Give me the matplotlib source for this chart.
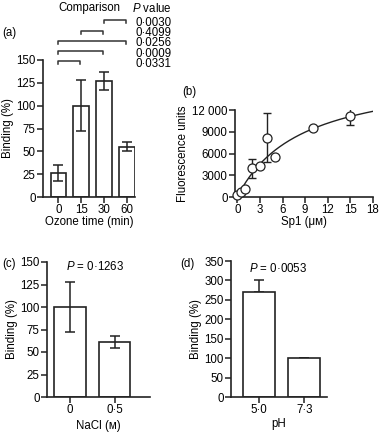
import matplotlib
matplotlib.use("Agg")
import matplotlib.pyplot as plt
import numpy as np

plt.rcParams['font.family'] = ['Liberation Sans', 'DejaVu Sans']
plt.rcParams['font.size'] = 8.3
plt.rcParams['mathtext.fontset'] = 'custom'
plt.rcParams['mathtext.rm'] = 'Liberation Sans'
plt.rcParams['mathtext.it'] = 'Liberation Sans:italic'

# ---------------- data ----------------
ozone_labels = ['0', '15', '30', '60']
ozone_binding = [26, 100, 127, 55]
ozone_err = [9, 28, 10, 5]
comparisons = [(2, 3), (1, 2), (0, 3), (0, 2), (0, 1)]
comparison_p = ['0·0030', '0·4099', '0·0256', '0·0009', '0·0331']

sp1_conc = [0, 0.5, 1, 2, 3, 4, 5, 10, 15]
sp1_fluor = [250, 700, 1100, 3950, 4300, 8200, 5450, 9450, 11150]
sp1_err = [0, 0, 0, 1350, 0, 3350, 0, 0, 1270]
fit_bmax = 17400          # hyperbolic fit parameters
fit_kd = 8.5

nacl_labels = ['0', '0·5']
nacl_binding = [100, 61]
nacl_err = [28, 7]
nacl_p = '0·1263'

ph_labels = ['5·0', '7·3']
ph_binding = [270, 100]
ph_err = [30, 1]
ph_p = '0·0053'

# ---------------- figure ----------------
W, H = 380, 432
FS = 8.3
fig = plt.figure(figsize=(W / 100, H / 100), dpi=100)
LC = '#222222'


def px_axes(l, r, b, t):
    return fig.add_axes([l / W, 1 - b / H, (r - l) / W, (b - t) / H])


def style(ax):
    for s in ['top', 'right']:
        ax.spines[s].set_visible(False)
    for s in ['left', 'bottom']:
        ax.spines[s].set_linewidth(1.2)
        ax.spines[s].set_color(LC)
    ax.tick_params(direction='out', length=4, width=1.1, color=LC, pad=1.2, labelsize=FS)


def bars(ax, labels, vals, errs, upper_only=False):
    x = np.arange(len(vals))
    ax.bar(x, vals, width=0.7, color='white', edgecolor=LC, linewidth=1.2, zorder=2)
    if upper_only:
        ax.errorbar(x, vals, yerr=[np.zeros(len(errs)), errs], fmt='none', ecolor=LC,
                    elinewidth=1.1, capsize=3.5, capthick=1.1, zorder=1)
    else:
        ax.errorbar(x, vals, yerr=errs, fmt='none', ecolor=LC, elinewidth=1.1,
                    capsize=3.5, capthick=1.1, zorder=3)
    ax.set_xticks(x)
    ax.set_xticklabels(labels)


def ftext(x, y, s, **kw):
    kw.setdefault('fontsize', FS)
    kw.setdefault('va', 'center')
    return fig.text(x / W, 1 - y / H, s, **kw)


# (a)
axa = px_axes(43, 135, 197, 60)
style(axa)
bars(axa, ozone_labels, ozone_binding, ozone_err)
axa.set_xlim(-0.68, 3.36)
axa.set_ylim(0, 150)
axa.set_yticks(np.arange(0, 151, 25))
axa.set_ylabel('Binding (%)', labelpad=2)
axa.set_xlabel('Ozone time (min)', labelpad=0)
levels = [194, 182, 171, 160, 149]
for (i, j), yl in zip(comparisons, levels):
    xs = [i, i, j - 0.05, j - 0.05]
    ys = [yl - 3.5, yl, yl, yl - 3.5]
    axa.plot(xs, ys, color='#333333', lw=1.1, clip_on=False)
ftext(136, 17, '\n'.join(comparison_p), ha='left', va='top', linespacing=0.8)
ftext(89, 8, 'Comparison', ha='center')
ftext(132, 8, '$\\mathit{P}$ value', ha='left')
ftext(2, 33, '(a)', ha='left')

# (b)
axb = px_axes(235, 373, 197, 110)
style(axb)
xf = np.linspace(0, 18, 200)
axb.plot(xf, fit_bmax * xf / (fit_kd + xf), color=LC, lw=1, zorder=1)
eb = np.array(sp1_err, dtype=float)
mask = eb > 0
axb.errorbar(np.array(sp1_conc)[mask], np.array(sp1_fluor)[mask], yerr=eb[mask], fmt='none',
             ecolor=LC, elinewidth=1, capsize=3, capthick=1, zorder=2)
axb.plot(sp1_conc, sp1_fluor, 'o', mfc='white', mec=LC, mew=0.9, ms=6.5, zorder=3, clip_on=False)
axb.set_xlim(-0.3, 18)
axb.set_ylim(0, 12000)
axb.set_xticks(np.arange(0, 19, 3))
axb.set_yticks(np.arange(0, 12001, 3000))
axb.set_yticklabels(['0', '3000', '6000', '9000', '12 000'])
axb.set_ylabel('Fluorescence units', labelpad=2)
axb.set_xlabel('Sp1 (μм)', labelpad=0)
ftext(182, 92, '(b)', ha='left')

# (c)
axc = px_axes(47, 150, 397, 262)
style(axc)
bars(axc, nacl_labels, nacl_binding, nacl_err)
axc.set_xlim(-0.51, 1.79)
axc.set_ylim(0, 150)
axc.set_yticks(np.arange(0, 151, 25))
axc.set_ylabel('Binding (%)', labelpad=2)
axc.set_xlabel('NaCl (м)', labelpad=3)
ftext(95, 267, '$\\mathit{P}$ = ' + nacl_p, ha='center')
ftext(2, 264, '(c)', ha='left')

# (d)
axd = px_axes(231, 327, 397, 261)
style(axd)
bars(axd, ph_labels, ph_binding, ph_err, upper_only=True)
axd.set_xlim(-0.61, 1.5)
axd.set_ylim(0, 350)
axd.set_yticks(np.arange(0, 351, 50))
axd.set_ylabel('Binding (%)', labelpad=2)
axd.set_xlabel('pH', labelpad=1)
ftext(278, 268, '$\\mathit{P}$ = ' + ph_p, ha='center')
ftext(180, 264, '(d)', ha='left')

fig.savefig('out.png', dpi=100)
